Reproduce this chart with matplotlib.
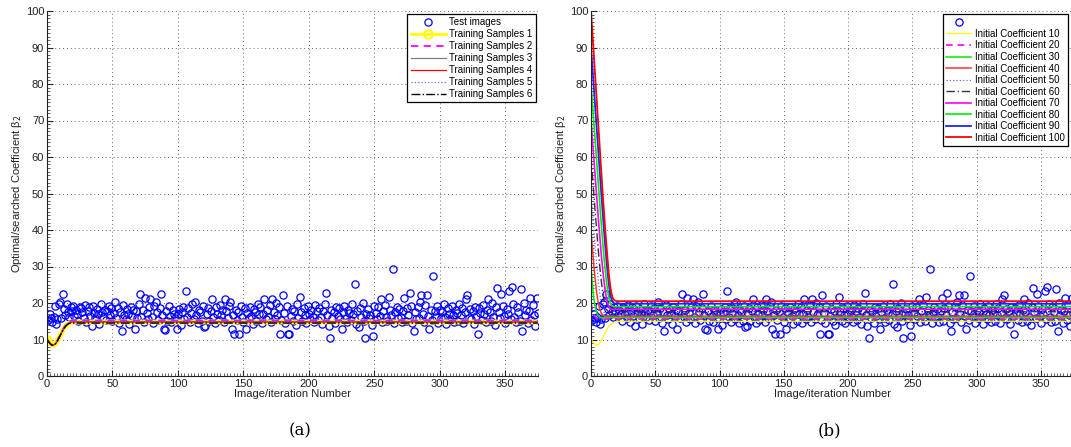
import numpy as np
import matplotlib
matplotlib.use("Agg")
import matplotlib.pyplot as plt
from matplotlib.ticker import MultipleLocator

plt.rcParams['font.family'] = ['Liberation Sans', 'DejaVu Sans']

# ---- Test image optimal coefficients (same in both panels) ----
test_images = [
    15.3, 17.0, 15.8, 14.8, 16.2, 19.3, 14.2, 15.6, 19.6, 20.4, 15.9, 22.6, 18.4, 16.8, 19.7, 17.5, 16.1, 18.9, 17.8, 19.3, 16.4, 18.2, 17.1, 15.2, 19.0,
    18.6, 17.4, 16.0, 19.5, 14.9, 17.8, 18.9, 16.5, 13.6, 19.2, 17.2, 15.8, 18.4, 16.9, 14.3, 19.8, 17.6, 16.2, 18.1, 15.4, 17.9, 19.1, 16.7, 18.5, 15.1,
    17.3, 20.4, 16.0, 18.7, 14.6, 17.5, 12.3, 19.4, 16.8, 15.5, 18.3, 17.0, 14.2, 19.0, 16.4, 18.1, 13.0, 17.7, 15.9, 19.6, 22.4, 16.3, 18.0, 14.9, 21.3,
    17.2, 15.6, 18.8, 21.0, 16.1, 14.4, 19.2, 20.4, 17.5, 15.3, 18.6, 22.4, 16.6, 13.0, 12.6, 17.9, 15.1, 19.3, 16.4, 14.7, 18.2, 17.0, 15.8, 12.9, 16.9,
    18.4, 14.1, 17.6, 19.0, 15.7, 23.3, 16.2, 18.7, 14.8, 17.3, 19.7, 15.5, 20.3, 16.8, 14.5, 18.1, 17.4, 15.2, 19.1, 13.5, 13.6, 16.9, 18.5, 15.0, 17.8,
    21.0, 16.3, 14.6, 18.9, 17.1, 15.4, 19.5, 16.6, 18.2, 14.9, 21.0, 17.7, 15.9, 19.2, 20.4, 12.9, 16.7, 11.5, 18.0, 15.3, 17.4, 11.5, 19.3, 16.1, 14.7,
    18.6, 12.9, 17.2, 15.8, 19.0, 16.4, 14.3, 18.3, 17.6, 15.1, 19.6, 16.9, 18.8, 14.5, 17.0, 21.2, 15.6, 18.1, 16.2, 19.4, 14.8, 21.0, 17.5, 15.7, 20.1,
    16.8, 18.9, 11.5, 15.4, 22.3, 17.3, 14.6, 19.1, 11.5, 11.5, 16.5, 18.4, 15.2, 17.8, 14.1, 19.7, 16.0, 21.7, 17.4, 15.0, 18.6, 16.6, 14.4, 19.2, 17.1,
    15.7, 18.0, 16.3, 14.9, 19.5, 17.7, 15.3, 18.5, 16.1, 14.2, 17.9, 19.8, 22.8, 16.7, 13.7, 10.5, 18.2, 15.9, 17.4, 14.6, 19.0, 16.4, 18.7, 15.5, 13.0,
    17.6, 19.3, 16.0, 14.8, 18.1, 17.2, 15.4, 19.6, 16.9, 25.1, 14.3, 17.8, 13.5, 18.6, 16.2, 19.9, 15.1, 10.3, 17.0, 18.4, 15.8, 16.6, 14.0, 10.9, 19.2,
    17.3, 15.6, 18.8, 16.4, 21.0, 14.7, 17.9, 19.4, 16.1, 15.0, 21.7, 18.2, 16.8, 29.3, 14.5, 17.5, 19.0, 15.9, 18.3, 16.3, 14.9, 17.7, 21.3, 15.2, 18.6,
    16.7, 22.8, 19.1, 14.4, 12.2, 17.4, 15.7, 18.9, 16.0, 20.4, 22.2, 17.1, 14.8, 19.5, 22.2, 16.5, 13.0, 18.2, 15.3, 27.4, 17.8, 16.2, 19.3, 14.6, 18.0,
    15.9, 17.6, 19.7, 16.3, 14.2, 18.5, 17.0, 15.5, 19.2, 16.8, 14.9, 18.1, 17.3, 15.1, 19.8, 16.6, 18.7, 14.5, 17.5, 21.0, 22.2, 16.0, 18.4, 15.7, 17.9,
    14.3, 19.0, 16.4, 11.6, 18.6, 17.2, 15.4, 19.4, 16.9, 14.7, 18.0, 21.0, 17.6, 15.2, 19.9, 16.2, 14.0, 18.8, 24.2, 17.4, 15.8, 22.5, 19.1, 16.5, 14.6,
    18.3, 17.0, 23.3, 15.6, 24.5, 19.6, 16.1, 14.8, 18.9, 17.5, 15.0, 23.7, 12.3, 20.0, 16.7, 18.2, 14.4, 17.8, 21.3, 15.3, 19.4, 16.8, 13.8, 21.5, 17.2,
]

# ---- Panel (a): searched coefficient per training-sample set (transient, then steady) ----
training_1 = [10.0, 9.6, 9.1, 8.7, 8.5, 8.5, 8.7, 9.1, 9.7, 10.4, 11.1, 11.8, 12.5, 13.1, 13.6, 14.0, 14.3, 14.5, 14.7, 14.8, 14.8]
training_2 = [10.0, 9.6, 9.1, 8.7, 8.5, 8.6, 8.8, 9.2, 9.8, 10.5, 11.2, 11.9, 12.6, 13.3, 13.8, 14.3, 14.7, 14.9, 15.1, 15.2, 15.2]
training_3 = [10.0, 9.6, 9.1, 8.7, 8.5, 8.5, 8.7, 9.1, 9.7, 10.4, 11.1, 11.8, 12.5, 13.1, 13.6, 14.1, 14.4, 14.6, 14.8, 14.9, 14.9]
training_4 = [10.0, 9.6, 9.1, 8.7, 8.5, 8.5, 8.7, 9.1, 9.7, 10.4, 11.1, 11.8, 12.5, 13.1, 13.6, 14.0, 14.3, 14.5, 14.7, 14.8, 14.8]
training_5 = [10.0, 9.6, 9.1, 8.7, 8.5, 8.6, 8.8, 9.2, 9.8, 10.5, 11.2, 11.9, 12.6, 13.2, 13.7, 14.1, 14.5, 14.7, 14.9, 15.0, 15.0]
training_6 = [10.0, 9.5, 9.0, 8.6, 8.4, 8.4, 8.6, 9.0, 9.6, 10.3, 11.0, 11.7, 12.4, 13.0, 13.5, 13.9, 14.2, 14.4, 14.5, 14.5, 14.5]
training_labels = ['Training Samples 1', 'Training Samples 2', 'Training Samples 3',
                   'Training Samples 4', 'Training Samples 5', 'Training Samples 6']

# ---- Panel (b): search from different initial coefficients ----
init_10 = [10.0, 9.6, 9.1, 8.7, 8.5, 8.5, 8.7, 9.1, 9.7, 10.4, 11.1, 11.8, 12.5, 13.1, 13.6, 14.0, 14.3, 14.5, 14.7, 14.9, 15.0]
init_20 = [20.0, 18.3, 17.1, 16.3, 15.9, 15.7, 15.6, 15.6]
init_30 = [30.0, 25.5, 21.9, 19.4, 17.8, 16.8, 16.3, 16.1, 16.0, 16.0]
init_40 = [40.0, 35.5, 31.2, 27.3, 24.0, 21.4, 19.5, 18.1, 17.2, 16.7, 16.5, 16.4, 16.4]
init_50 = [50.0, 45.4, 40.9, 36.5, 32.3, 28.4, 25.0, 22.1, 19.9, 18.4, 17.5, 17.1, 17.0, 17.0]
init_60 = [60.0, 55.4, 50.8, 46.2, 41.7, 37.3, 33.2, 29.4, 26.0, 23.1, 20.9, 19.3, 18.3, 17.8, 17.6, 17.6]
init_70 = [70.0, 65.3, 60.6, 55.9, 51.2, 46.5, 41.9, 37.5, 33.3, 29.5, 26.2, 23.5, 21.3, 19.8, 18.9, 18.5, 18.3, 18.3]
init_80 = [80.0, 75.2, 70.4, 65.6, 60.8, 56.0, 51.2, 46.4, 41.7, 37.2, 33.0, 29.2, 25.9, 23.2, 21.2, 19.9, 19.3, 19.1, 19.0, 19.0]
init_90 = [90.0, 85.0, 80.0, 75.0, 70.0, 65.0, 60.0, 55.0, 50.0, 45.2, 40.5, 36.0, 31.8, 28.0, 24.8, 22.4, 20.9, 20.2, 19.9, 19.8, 19.8]
init_100 = [100.0, 94.5, 89.0, 83.5, 78.0, 72.5, 67.0, 61.5, 56.0, 50.5, 45.5, 40.5, 36.0, 31.5, 27.5, 24.5, 22.5, 21.3, 20.8, 20.6, 20.5]
init_labels = ['Initial Coefficient 10', 'Initial Coefficient 20', 'Initial Coefficient 30',
               'Initial Coefficient 40', 'Initial Coefficient 50', 'Initial Coefficient 60',
               'Initial Coefficient 70', 'Initial Coefficient 80', 'Initial Coefficient 90',
               'Initial Coefficient 100']

X_END = 375


def curve(vals):
    xs = list(range(len(vals))) + [X_END]
    ys = list(vals) + [vals[-1]]
    return xs, ys


fig = plt.figure(figsize=(10.71, 4.47), dpi=100)
axA = fig.add_axes([47 / 1071, 1 - 376 / 447, 491 / 1071, 365 / 447])
axB = fig.add_axes([591 / 1071, 1 - 376 / 447, 482 / 1071, 365 / 447])

xs_test = np.arange(1, len(test_images) + 1)


def style(ax):
    ax.set_xlim(0, X_END)
    ax.set_ylim(0, 100)
    ax.xaxis.set_major_locator(MultipleLocator(50))
    ax.yaxis.set_major_locator(MultipleLocator(10))
    ax.xaxis.set_minor_locator(MultipleLocator(2.5))
    ax.yaxis.set_minor_locator(MultipleLocator(1))
    ax.tick_params(which='both', direction='in', labelsize=8, colors='#222222')
    ax.tick_params(which='major', length=4, width=0.8, pad=2)
    ax.tick_params(which='minor', length=2, width=0.5)
    ax.spines['top'].set_visible(False)
    ax.spines['right'].set_visible(False)
    ax.spines['left'].set_color('#222222')
    ax.spines['bottom'].set_color('#222222')
    ax.grid(True, which='major', linestyle=(0, (1, 3)), color='#666666', linewidth=0.7)
    ax.set_axisbelow(True)
    ax.set_xlabel('Image/iteration Number', fontsize=8, labelpad=0, color='#222222')
    ax.set_ylabel('Optimal/searched Coefficient β$_2$', fontsize=8, labelpad=1, color='#222222')


def make_legend(ax, anchor, spacing, hlen):
    handles, labels = ax.get_legend_handles_labels()
    leg = ax.legend(handles, labels, loc='upper right', bbox_to_anchor=anchor, fontsize=7,
                    handlelength=hlen, labelspacing=spacing, borderpad=0.35, handletextpad=0.35,
                    borderaxespad=0, fancybox=False, framealpha=1, edgecolor='black')
    leg.get_frame().set_linewidth(0.9)
    return leg


# Panel (a)
axA.plot(xs_test, test_images, 'o', mfc='none', mec='#0000ff', ms=5.2, mew=0.9, label='Test images')
styles_a = [
    dict(color='#ffff00', lw=3.5, marker='o', ms=6, mfc='none', mec='#ffff00', mew=1.5, markevery=[0]),
    dict(color='#ff00ff', lw=1.3, ls=(0, (4, 3))),
    dict(color='#808080', lw=0.9),
    dict(color='#ff0000', lw=0.9),
    dict(color='#6a6aff', lw=0.9, ls=':'),
    dict(color='#000000', lw=1.0, ls='-.'),
]
for vals, lab, st in zip([training_1, training_2, training_3, training_4, training_5, training_6],
                         training_labels, styles_a):
    xs, ys = curve(vals)
    axA.plot(xs, ys, label=lab, **st)
style(axA)
legA = make_legend(axA, (0.996, 0.992), 0.2, 3.6)
legA.get_lines()[1].set_linewidth(2.0)

# Panel (b)
axB.plot(xs_test, test_images, 'o', mfc='none', mec='#0000ff', ms=5.2, mew=0.9, label=' ')
styles_b = [
    dict(color='#ffff00', lw=0.9),
    dict(color='#ff00ff', lw=1.2, ls=(0, (4, 3))),
    dict(color='#00ee00', lw=1.1),
    dict(color='#ff3333', lw=1.1),
    dict(color='#6a6aff', lw=0.9, ls=':'),
    dict(color='#333333', lw=1.0, ls=(0, (6, 2, 1, 2))),
    dict(color='#ff00ff', lw=1.2),
    dict(color='#00ee00', lw=1.2),
    dict(color='#2222ff', lw=1.3),
    dict(color='#ff0000', lw=1.3),
]
for vals, lab, st in zip([init_10, init_20, init_30, init_40, init_50, init_60, init_70, init_80, init_90, init_100],
                         init_labels, styles_b):
    xs, ys = curve(vals)
    axB.plot(xs, ys, label=lab, **st)
style(axB)
make_legend(axB, (0.99, 0.992), 0.16, 2.6)

fig.text(300 / 1071, 1 - 431 / 447, '(a)', ha='center', va='center', fontsize=12, family='DejaVu Serif')
fig.text(829 / 1071, 1 - 431 / 447, '(b)', ha='center', va='center', fontsize=12, family='DejaVu Serif')

fig.savefig('out.png', dpi=100)
